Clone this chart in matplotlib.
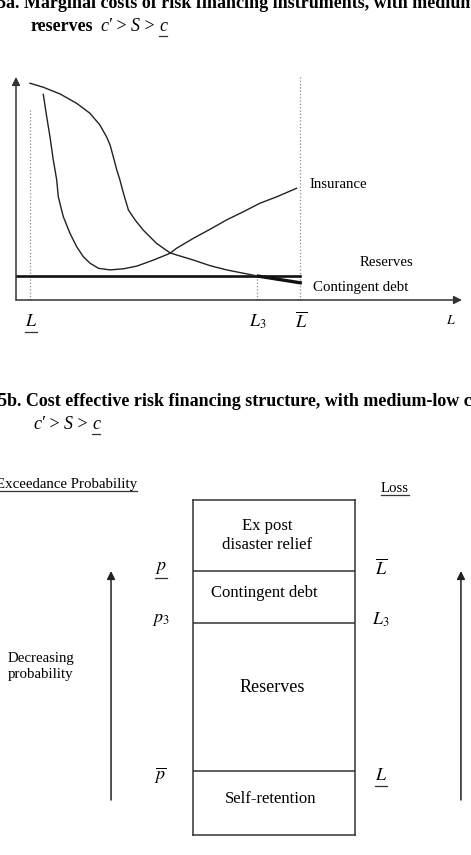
import matplotlib
matplotlib.use("Agg")
import matplotlib.pyplot as plt
from matplotlib.lines import Line2D

plt.rcParams['font.family'] = ['Liberation Serif', 'DejaVu Serif']
plt.rcParams['mathtext.fontset'] = 'stix'

W, H = 471, 855

# ---- panel 5a data (L on x, marginal cost on y, arbitrary units 0..100) ----
debt_x = [3.14, 6.12, 9.87, 13.6, 16.6, 18.8, 20.3, 21.1, 21.8, 22.6, 23.3, 24.1,
          25.2, 26.7, 28.5, 31.5, 34.5, 36.0, 39.8, 43.5, 47.2, 51.0, 54.0]
debt_y = [97.2, 95.4, 92.4, 88.2, 83.7, 78.5, 73.2, 69.5, 64.3, 58.3, 53.8, 47.8,
          40.4, 35.9, 31.4, 25.4, 21.2, 20.2, 17.9, 15.4, 13.5, 12.0, 10.8]
debt_tail_x = [54.0, 64.1]
debt_tail_y = [10.8, 7.6]
ins_x = [6.12, 6.88, 7.62, 8.36, 9.13, 9.48, 10.6, 12.1, 13.6, 15.1, 16.6, 18.5,
         21.1, 24.1, 27.1, 30.8, 34.5, 36.0, 39.8, 43.5, 47.2, 51.0, 54.7, 58.5, 62.9]
ins_y = [92.2, 82.2, 73.2, 62.8, 53.8, 46.3, 37.4, 29.9, 23.9, 19.4, 16.5, 14.2,
         13.5, 14.0, 15.2, 17.9, 20.9, 23.2, 27.7, 31.7, 35.9, 39.6, 43.4, 46.3, 50.1]
reserve_cost = 10.8
L_low, L_3, L_bar = 3.14, 54.0, 63.7
L_marks = [L_low, L_3, L_bar]
L_tops = [85.2, reserve_cost, 101.0]
L_labels = [r'$L$', r'$L_3$', r'$\overline{L}$']

# ---- panel 5b data: layer heights stacked from the bottom ----
layer_edges = [0, 64, 212, 264, 335]
layer_names = ['Self-retention', 'Reserves', 'Contingent debt', 'Ex post\ndisaster relief']
prob_labels = [r'$\overline{p}$', r'$p_3$', r'$p$']
loss_labels = [r'$L$', r'$L_3$', r'$\overline{L}$']

fig = plt.figure(figsize=(W / 100, H / 100), dpi=100)
fx = lambda px: px / W
fy = lambda py: 1 - py / H

underlines = []


def inequality(x, y):
    # c' > S > c  (last c underlined)
    parts = [('c\u2032', 'italic'), (' > ', 'normal'), ('S', 'italic'), (' > ', 'normal'),
             ('c', 'italic')]
    fig.canvas.draw()
    cur = fx(x)
    last = None
    for txt, st in parts:
        last = fig.text(cur, fy(y), txt, fontsize=13, fontstyle=st, va='baseline')
        fig.canvas.draw()
        bb = last.get_window_extent()
        cur = fig.transFigure.inverted().transform((bb.x1, bb.y0))[0]
    underlines.append((last, 1))


# titles
fig.text(fx(-3), fy(8), '5a. Marginal costs of risk financing instruments, with medium',
         fontsize=13, fontweight='bold', va='baseline')
fig.text(fx(31), fy(31), 'reserves', fontsize=13, fontweight='bold', va='baseline')
inequality(100, 31)

fig.text(fx(-2), fy(406), '5b. Cost effective risk financing structure, with medium-low c',
         fontsize=13, fontweight='bold', va='baseline')
inequality(33, 429)

# ---- top chart ----
ax = fig.add_axes([fx(16), fy(300), fx(462) - fx(16), fy(77) - fy(300)])
ax.set_xlim(0, 100)
ax.set_ylim(0, 100)
ax.axis('off')

for tip in [(100, 0), (0, 100)]:
    ax.annotate('', xy=tip, xytext=(0, 0), annotation_clip=False,
                arrowprops=dict(arrowstyle='-|>', lw=1.1, color='#333333',
                                mutation_scale=12, shrinkA=0, shrinkB=0))

for xm, top in zip(L_marks, L_tops):
    ax.plot([xm, xm], [0, top], ls=':', lw=0.9, color='#8a8a8a', clip_on=False)

ax.plot([0, L_bar], [reserve_cost, reserve_cost], color='#111111', lw=1.9)
ax.plot(debt_x, debt_y, color='#222222', lw=1.0, solid_joinstyle='round')
ax.plot(debt_tail_x, debt_tail_y, color='#111111', lw=2.4, solid_capstyle='butt')
ax.plot(ins_x, ins_y, color='#222222', lw=1.0, solid_joinstyle='round')

ax.text(65.9, 52.0, 'Insurance', fontsize=10.7, va='center')
ax.text(77.1, 17.0, 'Reserves', fontsize=10.7, va='center')
ax.text(66.6, 5.4, 'Contingent debt', fontsize=10.7, va='center')

for xm, lab in zip(L_marks, L_labels):
    t = ax.text(xm + 0.2, -9.6, lab, fontsize=13, ha='center', va='center')
    if lab == r'$L$':
        underlines.append((t, 2))
ax.text(97.6, -9.4, r'$L$', fontsize=10, ha='center', va='center')

# ---- bottom box ----
ax2 = fig.add_axes([fx(193), fy(835), fx(355) - fx(193), fy(500) - fy(835)])
ax2.set_xlim(0, 1)
ax2.set_ylim(layer_edges[0], layer_edges[-1])
ax2.set_xticks([])
ax2.set_yticks([])
for s in ax2.spines.values():
    s.set_color('#333333')
    s.set_linewidth(1.1)
ax2.hlines(layer_edges[1:-1], 0, 1, color='#333333', lw=1.1)

name_dx = [0.48, 0.49, 0.44, 0.46]
name_dy = [4, 10, 4, 0]
name_fs = [12, 13, 12, 12]
for i, name in enumerate(layer_names):
    mid = (layer_edges[i] + layer_edges[i + 1]) / 2 + name_dy[i]
    ax2.text(name_dx[i], mid, name, fontsize=name_fs[i], ha='center', va='center',
             linespacing=1.2)

for i, (pl, ll) in enumerate(zip(prob_labels, loss_labels)):
    yb = layer_edges[i + 1]
    off = -4 if i == 0 else 3
    tp = ax2.text(-0.2, yb + off, pl, fontsize=13, ha='center', va='center', clip_on=False)
    tl = ax2.text(1.16, yb + off, ll, fontsize=13, ha='center', va='center', clip_on=False)
    if i == 2:
        underlines.append((tp, 1))
    if i == 0:
        underlines.append((tl, 2))

for xa in [-0.506, 1.654]:
    ax2.annotate('', xy=(xa, layer_edges[3]), xytext=(xa, 35), annotation_clip=False,
                 arrowprops=dict(arrowstyle='-|>', lw=1.1, color='#222222',
                                 mutation_scale=12, shrinkA=0, shrinkB=0))

t = fig.text(fx(137), fy(488), 'Exceedance Probability', fontsize=10.7, ha='right',
             va='baseline')
underlines.append((t, 0))
t = fig.text(fx(381), fy(492), 'Loss', fontsize=10.7, va='baseline')
underlines.append((t, 0))
fig.text(fx(8), fy(662), 'Decreasing', fontsize=10.7, va='baseline')
fig.text(fx(8), fy(678), 'probability', fontsize=10.7, va='baseline')

# underline texts after layout is known
fig.canvas.draw()
inv = fig.transFigure.inverted()
for t, pad in underlines:
    bb = t.get_window_extent()
    (x0, y0), (x1, _) = inv.transform([(bb.x0, bb.y0 - pad), (bb.x1, bb.y0)])
    fig.add_artist(Line2D([x0, x1], [y0, y0], color='#333333', lw=0.9))

fig.savefig('out.png', dpi=100, facecolor='white')
